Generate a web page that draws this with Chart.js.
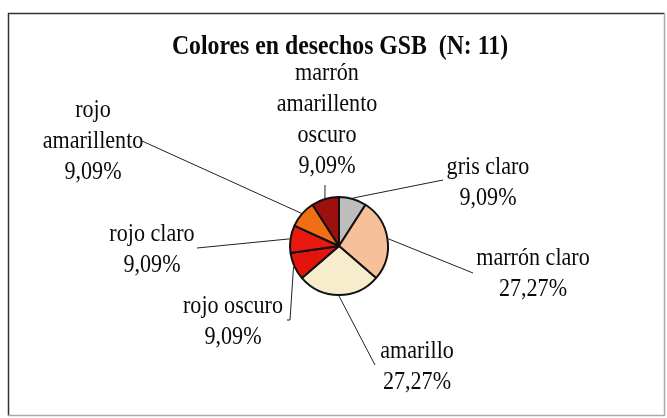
<!DOCTYPE html>
<html>
<head>
<meta charset="utf-8">
<script src="https://cdn.jsdelivr.net/npm/chart.js@4/dist/chart.umd.min.js"></script>
<style>
  html, body { margin: 0; padding: 0; background: #fff; }
  #wrap { position: relative; width: 667px; height: 418px; }
</style>
</head>
<body>
<div id="wrap"><canvas id="pie" width="667" height="418"></canvas></div>
<script>
// datos del gráfico
const chartTitle = 'Colores en desechos GSB  (N: 11)';
const categories = [
  ['gris claro'],
  ['marrón claro'],
  ['amarillo'],
  ['rojo oscuro'],
  ['rojo claro'],
  ['rojo', 'amarillento'],
  ['marrón', 'amarillento', 'oscuro']
];
const counts = [1, 3, 3, 1, 1, 1, 1];
const sliceColors = ['#bdbdbd', '#f5c09a', '#f7edcc', '#e3140c', '#e8190f', '#f06e14', '#9e0f0f'];

// posición de las etiquetas (centro de la primera línea) y fin de la línea guía
const labelLayout = [
  { x: 488, y: 167, lx: 443, ly: 180 },
  { x: 533, y: 258, lx: 473, ly: 273 },
  { x: 417, y: 351, lx: 375, ly: 365 },
  { x: 233, y: 306, lx: 290, ly: 320, hook: 287 },
  { x: 152, y: 234, lx: 197, ly: 248 },
  { x: 93,  y: 110, lx: 142, ly: 141 },
  { x: 327, y: 73,  lx: 325, ly: 185 }
];

const total = counts.reduce((a, b) => a + b, 0);
const pctLabel = v => (v / total * 100).toFixed(2).replace('.', ',') + '%';

function squeezedText(ctx, text, x, y, sx) {
  ctx.save();
  ctx.translate(x, y);
  ctx.scale(sx, 1);
  ctx.fillText(text, 0, 0);
  ctx.restore();
}

const labelsPlugin = {
  id: 'labels',
  beforeDraw(chart) {
    const ctx = chart.ctx;
    ctx.save();
    ctx.fillStyle = '#fff';
    ctx.fillRect(0, 0, chart.width, chart.height);
    // marco: arriba e izquierda oscuros, derecha y abajo tenues
    ctx.lineWidth = 1.5;
    ctx.strokeStyle = '#333';
    ctx.beginPath();
    ctx.moveTo(8.5, 415.5);
    ctx.lineTo(8.5, 13.5);
    ctx.lineTo(664.5, 13.5);
    ctx.stroke();
    ctx.strokeStyle = '#aaa';
    ctx.beginPath();
    ctx.moveTo(664.5, 13.5);
    ctx.lineTo(664.5, 415.5);
    ctx.lineTo(8.5, 415.5);
    ctx.stroke();
    ctx.restore();
  },
  afterDraw(chart) {
    const ctx = chart.ctx;
    const arcs = chart.getDatasetMeta(0).data;
    ctx.save();
    ctx.fillStyle = '#0a0a0a';
    ctx.textAlign = 'center';
    ctx.textBaseline = 'middle';

    // título
    ctx.font = 'bold 27px "Liberation Serif", "Times New Roman", serif';
    squeezedText(ctx, chartTitle, 340, 47, 0.88);

    ctx.font = '26px "Liberation Serif", "Times New Roman", serif';
    ctx.strokeStyle = '#222';
    ctx.lineWidth = 1;
    arcs.forEach((arc, i) => {
      const lay = labelLayout[i];
      const mid = (arc.startAngle + arc.endAngle) / 2;
      const r = arc.outerRadius + 1;
      const sx = arc.x + Math.cos(mid) * r;
      const sy = arc.y + Math.sin(mid) * r;
      ctx.beginPath();
      ctx.moveTo(sx, sy);
      ctx.lineTo(lay.lx, lay.ly);
      if (lay.hook) ctx.lineTo(lay.hook, lay.ly);
      ctx.stroke();

      const lines = categories[i].concat([pctLabel(counts[i])]);
      lines.forEach((t, k) => squeezedText(ctx, t, lay.x, lay.y + k * 31, 0.85));
    });
    ctx.restore();
  }
};

new Chart(document.getElementById('pie'), {
  type: 'pie',
  data: {
    labels: categories.map(c => c.join(' ')),
    datasets: [{
      data: counts,
      backgroundColor: sliceColors,
      borderColor: '#111',
      borderWidth: 2
    }]
  },
  options: {
    responsive: false,
    animation: false,
    layout: { padding: { left: 289, right: 278, top: 196, bottom: 122 } },
    plugins: {
      legend: { display: false },
      tooltip: { enabled: false }
    }
  },
  plugins: [labelsPlugin]
});
</script>
</body>
</html>
